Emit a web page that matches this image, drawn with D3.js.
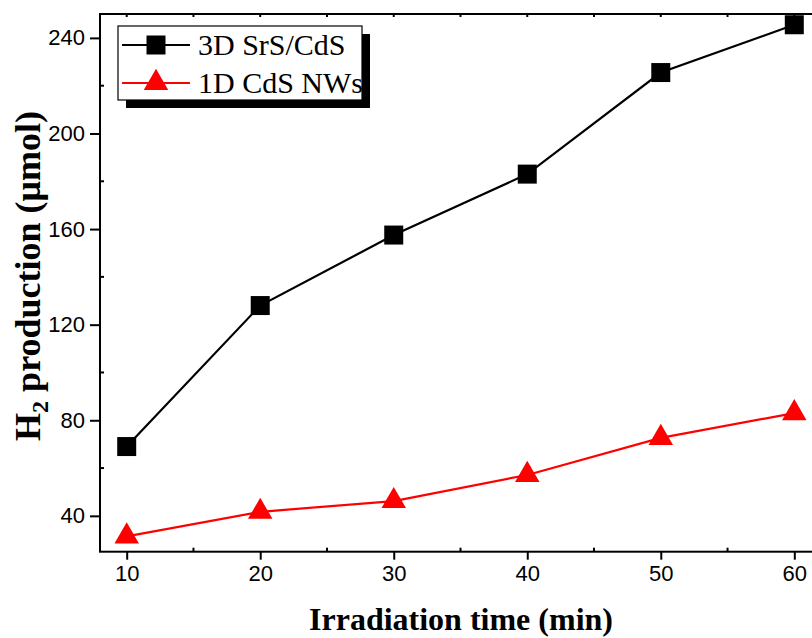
<!DOCTYPE html>
<html>
<head>
<meta charset="utf-8">
<script src="https://cdn.jsdelivr.net/npm/d3@7"></script>
<style>
  body { margin: 0; background: #fff; }
  svg { display: block; }
</style>
</head>
<body>
<svg id="chart" width="812" height="638"></svg>
<script>
// data
const times = [10, 20, 30, 40, 50, 60];
const srsCds = [69, 128, 157.5, 183, 225.5, 245.5];
const cdsNws = [31.4, 41.7, 46.2, 57.1, 72.6, 83];
const seriesNames = ["3D SrS/CdS", "1D CdS NWs"];
const xTicks = [10, 20, 30, 40, 50, 60];
const yTicks = [40, 80, 120, 160, 200, 240];

const sans = "'Liberation Sans', Arial, sans-serif";
const serif = "'Liberation Serif', 'Times New Roman', serif";

const svg = d3.select("#chart");

// plot box (right edge runs past the picture)
const mLeft = 100, mTop = 14, mBottom = 551.7, mRight = 821;

const x = d3.scaleLinear().domain([8, 62]).range([mLeft, mRight]);
const y = d3.scaleLinear().domain([25, 250]).range([mBottom, mTop]);

// minor ticks
const xMinor = d3.range(10, 62, 5).filter(v => v % 10 !== 0);
const yMinor = d3.range(40, 250, 20).filter(v => v % 40 !== 0);

const axes = svg.append("g");

// bottom axis, major ticks outward
const xAxis = axes.append("g")
  .attr("transform", `translate(0,${mBottom})`)
  .call(d3.axisBottom(x).tickValues(xTicks).tickSize(8).tickPadding(6).tickSizeOuter(0));
xAxis.selectAll(".tick line").attr("stroke-width", 2);
xAxis.selectAll("text")
  .attr("font-family", sans)
  .attr("font-size", 22)
  .attr("fill", "#000");
axes.append("g")
  .selectAll("line").data(xMinor).join("line")
  .attr("x1", d => x(d)).attr("x2", d => x(d))
  .attr("y1", mBottom).attr("y2", mBottom - 4)
  .attr("stroke", "#000").attr("stroke-width", 2);

// top axis, small inward ticks
axes.append("g")
  .selectAll("line").data(d3.range(10, 62, 5)).join("line")
  .attr("x1", d => x(d)).attr("x2", d => x(d))
  .attr("y1", mTop).attr("y2", mTop + 3)
  .attr("stroke", "#000").attr("stroke-width", 2);

// left axis, major ticks outward
const yAxis = axes.append("g")
  .attr("transform", `translate(${mLeft},0)`)
  .call(d3.axisLeft(y).tickValues(yTicks).tickSize(10).tickPadding(5).tickSizeOuter(0));
yAxis.selectAll(".tick line").attr("stroke-width", 2);
yAxis.selectAll("text")
  .attr("font-family", sans)
  .attr("font-size", 22)
  .attr("fill", "#000");
axes.append("g")
  .selectAll("line").data(yMinor).join("line")
  .attr("x1", mLeft).attr("x2", mLeft + 4)
  .attr("y1", d => y(d)).attr("y2", d => y(d))
  .attr("stroke", "#000").attr("stroke-width", 2);

axes.selectAll(".domain").remove();

// frame
svg.append("rect")
  .attr("x", mLeft).attr("y", mTop)
  .attr("width", mRight - mLeft).attr("height", mBottom - mTop)
  .attr("fill", "none").attr("stroke", "#000").attr("stroke-width", 2);

// series
const series = [
  { name: seriesNames[0], values: srsCds, color: "#000", symbol: d3.symbolSquare, size: 361 },
  { name: seriesNames[1], values: cdsNws, color: "#ff0000", symbol: d3.symbolTriangle, size: 260 }
];

const line = d3.line().x((d, i) => x(times[i])).y(d => y(d));

series.forEach(s => {
  svg.append("path")
    .attr("d", line(s.values))
    .attr("fill", "none")
    .attr("stroke", s.color)
    .attr("stroke-width", 2.2);
  svg.append("g")
    .selectAll("path").data(s.values).join("path")
    .attr("transform", (d, i) => `translate(${x(times[i])},${y(d)})`)
    .attr("d", d3.symbol().type(s.symbol).size(s.size))
    .attr("fill", s.color);
});

// legend with drop shadow
const lg = svg.append("g");
lg.append("rect")
  .attr("x", 126).attr("y", 34).attr("width", 244).attr("height", 74)
  .attr("fill", "#000");
lg.append("rect")
  .attr("x", 118).attr("y", 26).attr("width", 244).attr("height", 74)
  .attr("fill", "#fff").attr("stroke", "#000").attr("stroke-width", 1.2);

series.forEach((s, i) => {
  const cy = 45 + i * 38;
  lg.append("line")
    .attr("x1", 122).attr("x2", 190).attr("y1", cy).attr("y2", cy)
    .attr("stroke", s.color).attr("stroke-width", 2.2);
  lg.append("path")
    .attr("transform", `translate(156,${cy})`)
    .attr("d", d3.symbol().type(s.symbol).size(s.size))
    .attr("fill", s.color);
  lg.append("text")
    .attr("x", 198).attr("y", cy + 10)
    .attr("font-family", serif)
    .attr("font-size", 30)
    .attr("fill", "#000")
    .text(s.name);
});

// axis titles
svg.append("text")
  .attr("x", 461).attr("y", 630)
  .attr("text-anchor", "middle")
  .attr("font-family", serif)
  .attr("font-weight", "bold")
  .attr("font-size", 32)
  .attr("fill", "#000")
  .text("Irradiation time (min)");

const yl = svg.append("text")
  .attr("transform", "translate(40,276) rotate(-90)")
  .attr("text-anchor", "middle")
  .attr("font-family", serif)
  .attr("font-weight", "bold")
  .attr("font-size", 36)
  .attr("fill", "#000");
yl.append("tspan").text("H");
yl.append("tspan").attr("font-size", 24).attr("dy", 8).text("2");
yl.append("tspan").attr("dy", -8).text(" production (\u03bcmol)");
</script>
</body>
</html>
